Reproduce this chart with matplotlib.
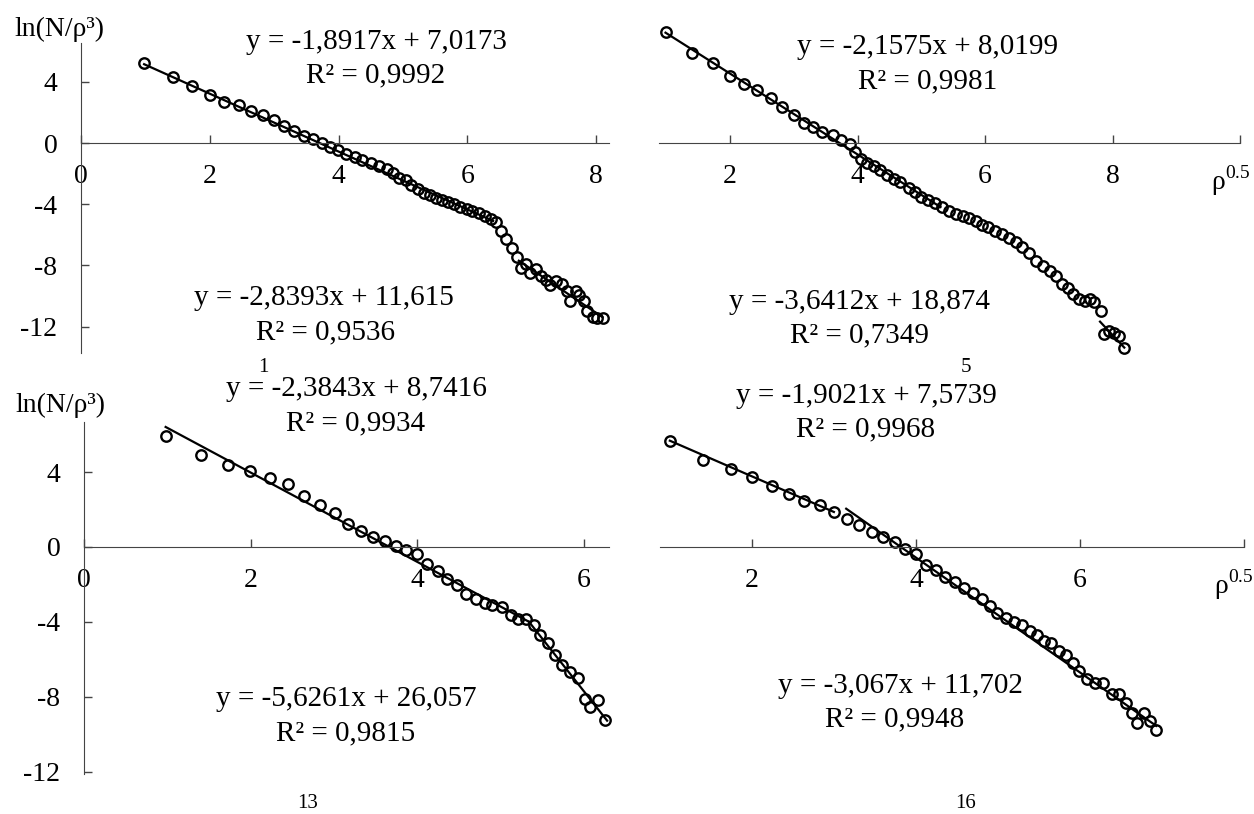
import numpy as np
import matplotlib.pyplot as plt

plt.rcParams['font.family'] = ['Liberation Serif', 'DejaVu Serif']
plt.rcParams['mathtext.fontset'] = 'custom'
plt.rcParams['mathtext.rm'] = 'Liberation Serif'

# ---- data ----
# panel "1"
x1 = [0.98, 1.43, 1.73, 2.00, 2.22, 2.46, 2.64, 2.83, 3.00, 3.16, 3.31, 3.46, 3.60, 3.74,
      3.87, 3.99, 4.12, 4.25, 4.37, 4.50, 4.63, 4.75, 4.85, 4.94, 5.04, 5.13, 5.23, 5.32,
      5.42, 5.51, 5.61, 5.70, 5.80, 5.89, 5.99, 6.08, 6.18, 6.27, 6.37, 6.45, 6.53, 6.60,
      6.69, 6.77, 6.83, 6.91, 6.97, 7.07, 7.15, 7.22, 7.29, 7.38, 7.47, 7.54, 7.60, 7.68,
      7.74, 7.81, 7.86, 7.95, 8.02, 8.10]
y1 = [5.24, 4.34, 3.74, 3.15, 2.69, 2.51, 2.09, 1.83, 1.50, 1.15, 0.81, 0.48, 0.26, 0.00,
      -0.22, -0.44, -0.70, -0.88, -1.10, -1.28, -1.48, -1.70, -1.98, -2.25, -2.42, -2.75,
      -2.97, -3.24, -3.41, -3.57, -3.70, -3.85, -4.01, -4.19, -4.30, -4.41, -4.56, -4.74,
      -4.96, -5.18, -5.73, -6.28, -6.83, -7.44, -8.15, -7.93, -8.48, -8.26, -8.70, -8.92,
      -9.25, -9.03, -9.21, -9.69, -10.35, -9.65, -9.91, -10.35, -11.01, -11.34, -11.45, -11.45]
fit1 = [(-1.8917, 7.0173, 0.98, 6.40), (-2.8393, 11.615, 6.80, 8.10)]
eq1 = ["y = -1,8917x + 7,0173", "R² = 0,9992", "y = -2,8393x + 11,615", "R² = 0,9536"]

# panel "5"
x5 = [0.99, 1.40, 1.73, 2.00, 2.22, 2.43, 2.65, 2.82, 3.00, 3.16, 3.30, 3.44, 3.61, 3.74,
      3.88, 3.96, 4.05, 4.15, 4.25, 4.35, 4.46, 4.57, 4.67, 4.80, 4.90, 5.00, 5.11, 5.22,
      5.33, 5.43, 5.54, 5.65, 5.75, 5.85, 5.95, 6.05, 6.16, 6.27, 6.38, 6.48, 6.58, 6.69,
      6.80, 6.91, 7.01, 7.11, 7.21, 7.30, 7.37, 7.47, 7.56, 7.64, 7.71, 7.81, 7.86, 7.94,
      8.02, 8.10, 8.18]
y5 = [5.91, 4.79, 4.25, 3.57, 3.13, 2.82, 2.38, 1.93, 1.48, 1.07, 0.86, 0.59, 0.41, 0.14,
      -0.07, -0.48, -0.84, -1.07, -1.25, -1.46, -1.73, -1.91, -2.09, -2.39, -2.63, -2.86,
      -3.04, -3.21, -3.43, -3.64, -3.79, -3.88, -4.00, -4.18, -4.36, -4.50, -4.68, -4.86,
      -5.07, -5.30, -5.57, -5.89, -6.29, -6.55, -6.82, -7.09, -7.54, -7.71, -8.07, -8.30,
      -8.43, -8.34, -8.48, -8.96, -10.21, -10.04, -10.13, -10.30, -10.93]
fit5 = [(-2.1575, 8.0199, 0.99, 5.30), (-3.6412, 18.874, 7.80, 8.18)]
eq5 = ["y = -2,1575x + 8,0199", "R² = 0,9981", "y = -3,6412x + 18,874", "R² = 0,7349"]

# panel "13"
x13 = [0.98, 1.40, 1.73, 1.99, 2.23, 2.45, 2.64, 2.83, 3.01, 3.17, 3.32, 3.47, 3.61, 3.75,
       3.87, 4.00, 4.12, 4.25, 4.36, 4.48, 4.59, 4.70, 4.81, 4.90, 5.02, 5.12, 5.21, 5.31,
       5.40, 5.48, 5.57, 5.66, 5.74, 5.84, 5.93, 6.02, 6.08, 6.17, 6.25]
y13 = [5.91, 4.93, 4.40, 4.04, 3.70, 3.38, 2.74, 2.26, 1.81, 1.21, 0.87, 0.53, 0.30, 0.05,
       -0.18, -0.36, -0.93, -1.28, -1.69, -2.05, -2.49, -2.76, -2.97, -3.11, -3.20, -3.61,
       -3.83, -3.84, -4.18, -4.72, -5.12, -5.78, -6.32, -6.67, -6.97, -8.10, -8.54, -8.15, -9.25]
fit13 = [(-2.3843, 8.7416, 0.98, 5.34), (-5.6261, 26.057, 5.34, 6.28)]
eq13 = ["y = -2,3843x + 8,7416", "R² = 0,9934", "y = -5,6261x + 26,057", "R² = 0,9815"]

# panel "16"
x16 = [1.00, 1.41, 1.74, 2.00, 2.24, 2.45, 2.64, 2.83, 3.00, 3.16, 3.31, 3.46, 3.60, 3.75,
       3.87, 4.00, 4.12, 4.24, 4.36, 4.48, 4.59, 4.69, 4.80, 4.90, 4.99, 5.10, 5.20, 5.29,
       5.39, 5.48, 5.56, 5.65, 5.75, 5.83, 5.91, 5.99, 6.08, 6.18, 6.28, 6.39, 6.47, 6.56,
       6.63, 6.70, 6.78, 6.85, 6.93]
y16 = [5.68, 4.65, 4.16, 3.73, 3.23, 2.84, 2.47, 2.22, 1.86, 1.49, 1.19, 0.80, 0.52, 0.25,
       -0.11, -0.36, -0.94, -1.24, -1.60, -1.88, -2.18, -2.45, -2.77, -3.16, -3.52, -3.78,
       -4.01, -4.19, -4.49, -4.72, -5.03, -5.12, -5.56, -5.79, -6.22, -6.63, -7.07, -7.25,
       -7.25, -7.87, -7.83, -8.31, -8.85, -9.41, -8.88, -9.29, -9.77]
fit16 = [(-1.9021, 7.5739, 1.00, 3.00), (-3.067, 11.702, 3.15, 6.93)]
eq16 = ["y = -1,9021x + 7,5739", "R² = 0,9968", "y = -3,067x + 11,702", "R² = 0,9948"]

W, H = 1254, 814
FS = 20      # tick labels
FS_EQ = 21   # trendline equations
AX_COLOR = '#444444'


def box(l, t, r, b):
    # pixel box -> figure fraction rect
    return [l / W, 1 - b / H, (r - l) / W, (b - t) / H]


def at(x, y):
    return x / W, 1 - y / H


def panel(ax, x, y, fits, xlim, ylim, xticks, xlabels, left_axis):
    ax.set_xlim(*xlim)
    ax.set_ylim(*ylim)
    for m, c, a, b in fits:
        xx = np.array([a, b])
        ax.plot(xx, m * xx + c, color='black', lw=1.6)
    ax.plot(x, y, 'o', mfc='none', mec='black', ms=7.5, mew=1.7, clip_on=False)

    ax.spines['top'].set_visible(False)
    ax.spines['right'].set_visible(False)
    ax.spines['bottom'].set_position(('data', 0))
    ax.spines['bottom'].set_color(AX_COLOR)
    ax.spines['left'].set_color(AX_COLOR)
    ax.set_xticks(xticks)
    ax.set_xticklabels(xlabels)
    ax.tick_params(axis='x', direction='in', length=6, width=1, color=AX_COLOR,
                   pad=15, labelsize=FS)
    if left_axis:
        ax.set_yticks([4, 0, -4, -8, -12])
        ax.set_yticklabels(['4', '0', '-4', '-8', '-12'])
        ax.tick_params(axis='y', direction='in', length=6, width=1, color=AX_COLOR,
                       pad=17, labelsize=FS)
    else:
        ax.spines['left'].set_visible(False)
        ax.set_yticks([])
    ax.patch.set_alpha(0)


fig = plt.figure(figsize=(W / 100, H / 100), dpi=100)

ax1 = fig.add_axes(box(81, 43, 609, 352.6))
panel(ax1, x1, y1, fit1, (0, 8.2), (-13.7, 6.55), [0, 2, 4, 6, 8],
      ['0', '2', '4', '6', '8'], True)

ax5 = fig.add_axes(box(658.5, 0.5, 1240.4, 360.5))
panel(ax5, x5, y5, fit5, (0.88, 10), (-11.6, 7.6), [2, 4, 6, 8, 10],
      ['2', '4', '6', '8', ''], False)

ax13 = fig.add_axes(box(84, 422, 608.8, 773.6))
panel(ax13, x13, y13, fit13, (0, 6.3), (-12.1, 6.67), [0, 2, 4, 6],
      ['0', '2', '4', '6'], True)

ax16 = fig.add_axes(box(660, 422, 1244, 773.6))
panel(ax16, x16, y16, fit16, (0.88, 8.0), (-12.1, 6.67), [2, 4, 6, 8],
      ['2', '4', '6', ''], False)

rho = r'$\mathrm{ρ}^{\mathrm{0.5}}$'
for ax, xend in [(ax5, 10), (ax16, 8.0)]:
    ax.annotate(rho, xy=(xend, 0), xycoords='data', xytext=(7, -27),
                textcoords='offset points', ha='right', va='center', fontsize=FS)

ylab = 'ln(N/ρ³)'
fig.text(*at(59, 29), ylab, ha='center', va='center', fontsize=FS)
fig.text(*at(60, 405), ylab, ha='center', va='center', fontsize=FS)

# trendline equations (pixel centres)
eq_pos = [
    (eq1, [(376, 42), (376, 75), (324, 298), (325, 332)]),
    (eq5, [(928, 47), (928, 81), (860, 302), (860, 335)]),
    (eq13, [(356, 389), (356, 423), (346, 699), (346, 733)]),
    (eq16, [(866, 396), (866, 429), (900, 686), (895, 719)]),
]
for texts, pos in eq_pos:
    for s, (px, py) in zip(texts, pos):
        fig.text(*at(px, py), s, ha='center', va='center', fontsize=FS_EQ)

for s, (px, py) in [('1', (263, 368)), ('5', (966, 368)), ('13', (308, 803)), ('16', (966, 803))]:
    fig.text(*at(px, py), s, ha='center', va='center', fontsize=15)

fig.savefig('out.png', dpi=100)
